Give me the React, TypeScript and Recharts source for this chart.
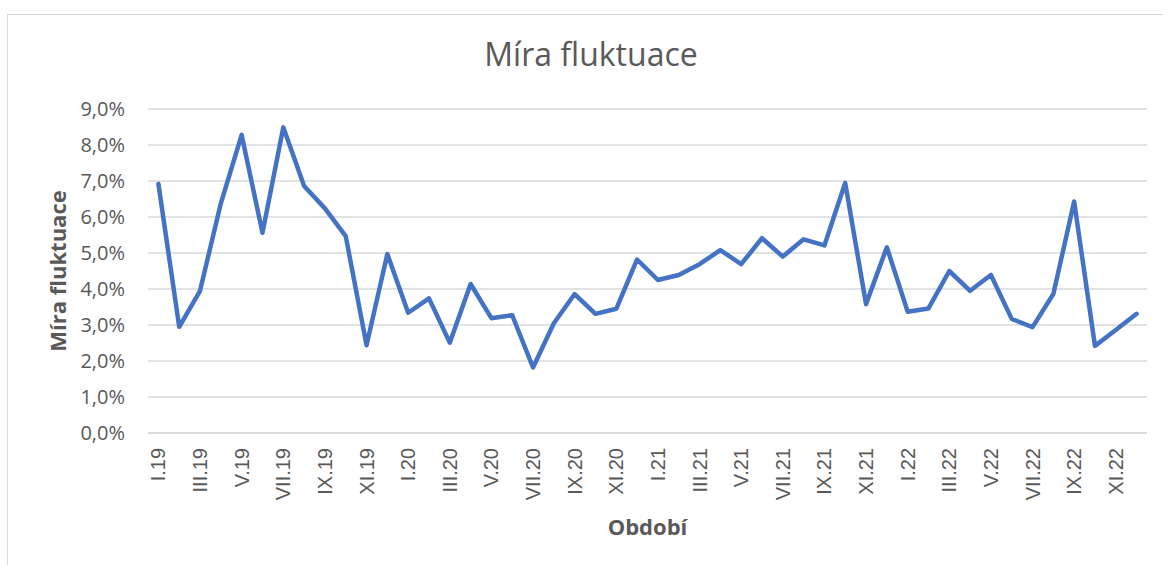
import React from "react";
import { LineChart, Line, XAxis, YAxis, CartesianGrid, Label } from "recharts";

const months: string[] = [
  "I.19", "II.19", "III.19", "IV.19", "V.19", "VI.19", "VII.19", "VIII.19", "IX.19", "X.19", "XI.19", "XII.19",
  "I.20", "II.20", "III.20", "IV.20", "V.20", "VI.20", "VII.20", "VIII.20", "IX.20", "X.20", "XI.20", "XII.20",
  "I.21", "II.21", "III.21", "IV.21", "V.21", "VI.21", "VII.21", "VIII.21", "IX.21", "X.21", "XI.21", "XII.21",
  "I.22", "II.22", "III.22", "IV.22", "V.22", "VI.22", "VII.22", "VIII.22", "IX.22", "X.22", "XI.22", "XII.22",
];

const fluktuace: number[] = [
  6.92, 2.95, 3.95, 6.38, 8.28, 5.56, 8.49, 6.86, 6.24, 5.47, 2.44, 4.97,
  3.34, 3.74, 2.51, 4.14, 3.19, 3.27, 1.82, 3.05, 3.86, 3.31, 3.45, 4.82,
  4.25, 4.39, 4.69, 5.08, 4.69, 5.41, 4.9, 5.38, 5.21, 6.95, 3.58, 5.16,
  3.37, 3.46, 4.5, 3.95, 4.39, 3.17, 2.94, 3.86, 6.43, 2.42, 2.86, 3.31,
];

const yTicks: number[] = [0, 1, 2, 3, 4, 5, 6, 7, 8, 9];

const data = months.map((m, i) => ({ m, v: fluktuace[i] }));

const TEXT = "#595959";
const GRID = "#d9d9d9";

const fmt = (v: number) => v.toFixed(1).replace(".", ",") + "%";

const XTick = (props: any) => {
  const { x, y, payload } = props;
  return (
    <g transform={`translate(${x},${y})`}>
      <text
        transform="rotate(-90)"
        textAnchor="end"
        dominantBaseline="central"
        fill={TEXT}
        fontSize={20}
        fontFamily="'Liberation Sans', Arial, sans-serif"
      >
        {payload.value}
      </text>
    </g>
  );
};

const YTitle = (props: any) => {
  const vb = props.viewBox || {};
  const cx = (vb.x ?? 0) + 57;
  const cy = (vb.y ?? 0) + (vb.height ?? 0) / 2;
  return (
    <text
      x={cx}
      y={cy}
      transform={`rotate(-90, ${cx}, ${cy})`}
      textAnchor="middle"
      dominantBaseline="central"
      fill={TEXT}
      fontSize={22}
      fontWeight="bold"
      fontFamily="'Open Sans', sans-serif"
    >
      Míra fluktuace
    </text>
  );
};

export default function App() {
  return (
    <div
      style={{
        position: "fixed",
        left: 0,
        top: 0,
        width: 1163,
        height: 565,
        overflow: "hidden",
        background: "#fff",
      }}
    >
      <div
        style={{
          position: "absolute",
          left: 7,
          top: 14,
          width: 1300,
          height: 700,
          border: `1.5px solid ${GRID}`,
          boxSizing: "border-box",
        }}
      />
      <div
        style={{
          position: "absolute",
          left: 0,
          top: 38,
          width: 1182,
          textAlign: "center",
          fontFamily: "'Open Sans', sans-serif",
          fontSize: 32,
          lineHeight: 1,
          color: TEXT,
        }}
      >
        Míra fluktuace
      </div>
      <div style={{ position: "absolute", left: 0, top: 0 }}>
        <LineChart
          width={1163}
          height={565}
          data={data}
          margin={{ top: 109, right: 16, bottom: 0, left: 0 }}
        >
          <CartesianGrid vertical={false} stroke={GRID} strokeWidth={1.5} />
          <XAxis
            dataKey="m"
            scale="band"
            interval={1}
            height={132}
            tickLine={false}
            tickSize={0}
            tickMargin={15}
            axisLine={{ stroke: GRID, strokeWidth: 1.5 }}
            tick={<XTick />}
          >
            <Label
              value="Období"
              position="insideBottom"
              offset={30}
              fill={TEXT}
              fontSize={22}
              fontWeight="bold"
              fontFamily="'Open Sans', sans-serif"
            />
          </XAxis>
          <YAxis
            width={148}
            domain={[0, 9]}
            ticks={yTicks}
            tickFormatter={fmt}
            axisLine={false}
            tickLine={false}
            tickSize={0}
            tickMargin={23}
            tick={{ fill: TEXT, fontSize: 20, fontFamily: "'Open Sans', sans-serif" }}
          >
            <Label content={<YTitle />} />
          </YAxis>
          <Line
            type="linear"
            dataKey="v"
            stroke="#4472C4"
            strokeWidth={4.5}
            strokeLinejoin="round"
            strokeLinecap="round"
            dot={false}
            activeDot={false}
            isAnimationActive={false}
          />
        </LineChart>
      </div>
    </div>
  );
}
